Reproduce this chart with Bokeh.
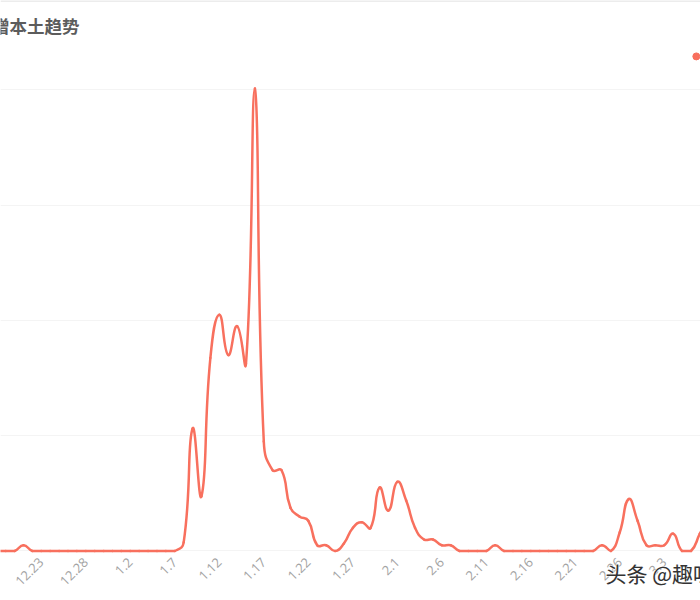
import numpy as np
from bokeh.embed import file_html
from bokeh.models import FixedTicker, Label, Range1d, Span
from bokeh.plotting import figure
from bokeh.resources import INLINE

# one value per day, starting 12.18
cases = [0, 0, 0, 2, 0, 0, 0, 0, 0, 0,
         0, 0, 0, 0, 0, 0, 0, 0, 0, 0,
         0, 3, 42.5, 19, 67, 82, 68, 78, 65, 160.5,
         38, 28, 28, 15, 12, 10.5, 2, 2, 0, 2.6,
         8, 10, 8, 22, 14, 24, 17.5, 8, 4, 4,
         2, 2, 0, 0, 0, 0, 2, 0, 0, 0,
         0, 0, 0, 0, 0, 0, 0, 0, 2, 0,
         6.5, 18, 10.5, 2, 2, 2, 6, 0, 0, 6, 12]
tick_days = [5, 10, 15, 20, 25, 30, 35, 40, 45, 50, 55, 60, 65, 70, 75, 80]
tick_labels = ["12.23", "12.28", "1.2", "1.7", "1.12", "1.17", "1.22", "1.27",
               "2.1", "2.6", "2.11", "2.16", "2.21", "2.26", "3.3", "3.8"]
y_ticks = [0, 40, 80, 120, 160]
title = "新增本土趋势"
watermark = "头条 @趣味"

LINE = "#f8705e"
Y_TOP = 191


def smooth_segments(ys, smooth=0.5, px_x=8.9, px_y=2.88):
    # same idea as a smoothed echarts line, control points weighted by segment length
    xs = np.arange(len(ys), dtype=float)
    ys = np.array(ys, dtype=float)
    c_in = np.zeros((len(ys), 2))
    c_out = np.zeros((len(ys), 2))
    for i in range(len(ys)):
        a, b = max(i - 1, 0), min(i + 1, len(ys) - 1)
        vx, vy = xs[b] - xs[a], ys[b] - ys[a]
        d0 = np.hypot((xs[i] - xs[a]) * px_x, (ys[i] - ys[a]) * px_y)
        d1 = np.hypot((xs[b] - xs[i]) * px_x, (ys[b] - ys[i]) * px_y)
        total = d0 + d1
        w0 = d0 / total if total else 0.5
        w1 = d1 / total if total else 0.5
        c_in[i] = xs[i] - vx * smooth * w0, ys[i] - vy * smooth * w0
        c_out[i] = xs[i] + vx * smooth * w1, ys[i] + vy * smooth * w1
    c_in[:, 1] = np.clip(c_in[:, 1], 0, ys.max())
    c_out[:, 1] = np.clip(c_out[:, 1], 0, ys.max())
    return dict(x0=xs[:-1], y0=ys[:-1], x1=xs[1:], y1=ys[1:],
                cx0=c_out[:-1, 0], cy0=c_out[:-1, 1],
                cx1=c_in[1:, 0], cy1=c_in[1:, 1])


p = figure(width=700, height=600, output_backend="svg", toolbar_location=None,
           x_range=Range1d(0.416, 79.07), y_range=Range1d(-17.18, Y_TOP),
           min_border_left=0, min_border_right=0, min_border_top=0, min_border_bottom=0)
p.outline_line_color = None
p.background_fill_color = "white"

p.yaxis.visible = False
p.yaxis.ticker = FixedTicker(ticks=y_ticks)
p.xgrid.visible = False
p.ygrid.ticker = FixedTicker(ticks=y_ticks)
p.ygrid.grid_line_color = "#f4f4f4"

# axis sits inside the frame so the watermark can overlap the label strip
p.xaxis.fixed_location = 0
p.xaxis.ticker = FixedTicker(ticks=tick_days)
p.xaxis.major_label_overrides = dict(zip(tick_days, tick_labels))
p.xaxis.major_label_orientation = np.pi / 4
p.xaxis.major_label_text_color = "#a3a3a3"
p.xaxis.major_label_text_font = "Open Sans"
p.xaxis.major_label_text_font_size = "13px"
p.xaxis.major_label_standoff = 3
p.xaxis.axis_line_color = None
p.xaxis.major_tick_line_color = None
p.xaxis.minor_tick_line_color = None

p.add_layout(Span(location=Y_TOP, dimension="width", line_color="#ececec", line_width=3))

p.bezier(line_color=LINE, line_width=2.5, line_cap="round", **smooth_segments(cases))

# legend marker, its name runs off the picture
p.scatter([78.6], [171.6], size=7, color=LINE)

p.add_layout(Label(x=-26, y=575, x_units="screen", y_units="screen", text=title,
                   text_font="Noto Sans CJK SC", text_font_size="17.5px", text_font_style="bold",
                   text_color="#5c5c5c", text_baseline="middle"))
# white halo under the watermark
for outline in ["white", None]:
    p.add_layout(Label(x=605, y=28, x_units="screen", y_units="screen", text=watermark,
                       text_font="Noto Sans CJK SC", text_font_size="21px",
                       text_color="#333333", text_baseline="middle",
                       text_outline_color=outline, level="overlay"))

open("out.html", "w").write(file_html(p, INLINE))
